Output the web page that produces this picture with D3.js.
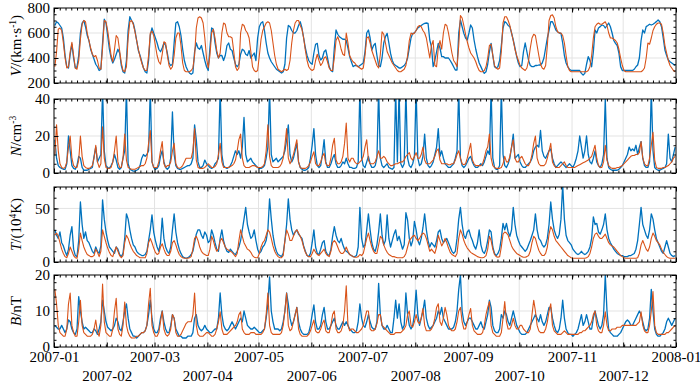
<!DOCTYPE html>
<html><head><meta charset="utf-8">
<script src="https://cdn.jsdelivr.net/npm/d3@7"></script>
<style>
body{margin:0;background:#fff}
text{font-family:"Liberation Serif","Times New Roman",serif;fill:#000}
</style>
</head><body>
<svg id="c" width="700" height="384"></svg>
<script>
// ---------------- data (daily values, 2007-01-01 .. 2007-12-31) ----------------
const monthTicks = ["2007-01","2007-02","2007-03","2007-04","2007-05","2007-06","2007-07","2007-08","2007-09","2007-10","2007-11","2007-12","2008-01"];

const vModel = [
330,450,630,640,620,520,400,320,330,450,
525,420,320,310,380,550,670,700,690,600,
540,480,430,410,420,380,320,310,480,700,
690,620,520,420,370,470,580,560,460,360,
300,290,330,560,690,700,670,610,540,470,
410,360,320,300,300,420,600,615,580,500,
420,370,350,430,530,520,420,340,310,330,
420,560,600,600,500,360,300,290,290,290,
300,320,420,640,720,730,720,680,560,400,
320,420,600,630,560,460,400,440,600,680,
670,600,570,570,560,450,330,300,320,600,
670,660,620,600,560,450,330,300,290,300,
420,550,620,650,680,690,680,620,520,420,
350,310,300,290,300,310,300,310,380,520,
620,680,700,700,660,630,560,460,380,330,
310,300,310,380,430,380,340,360,400,410,
370,320,300,300,400,540,570,530,470,430,
420,600,520,420,390,370,360,340,330,320,
310,320,420,560,570,520,460,420,380,340,
320,430,610,590,520,450,420,390,360,340,
320,300,290,290,300,310,340,420,540,600,
590,600,620,650,660,650,620,600,560,480,
400,500,540,340,330,480,540,470,600,670,
660,600,520,440,380,360,330,500,740,720,
660,590,530,480,440,420,400,370,330,300,
290,290,300,330,400,500,510,420,340,320,
310,320,450,680,730,730,700,660,600,540,
470,420,380,340,320,310,300,320,380,480,
560,590,580,500,420,350,320,310,340,500,
700,740,745,720,650,610,600,600,580,520,
420,330,300,290,290,290,290,290,290,290,
290,290,290,300,330,420,560,650,670,680,
670,670,680,690,660,600,560,560,550,540,
520,470,400,340,300,290,290,290,290,290,
290,290,290,290,290,300,320,400,520,510,
560,620,650,670,680,680,670,600,500,440,
380,340,320,300,290];

const vObs = [
660,690,680,660,640,560,420,330,320,430,
510,400,320,330,420,600,680,700,650,580,
540,470,430,390,350,330,300,310,520,710,
680,580,470,400,360,390,430,470,440,340,
290,280,380,620,730,700,680,620,540,460,
420,370,320,290,280,380,580,640,600,560,
520,470,450,480,520,500,440,360,340,350,
520,680,690,650,580,470,380,330,300,280,
270,280,450,520,480,470,500,440,380,330,
300,480,640,630,520,440,400,420,420,380,
420,500,520,470,460,400,350,330,350,430,
470,460,430,420,460,400,420,440,380,560,
650,680,690,620,520,440,400,370,350,330,
310,300,290,280,290,350,560,660,650,620,
600,600,620,660,690,640,560,480,420,380,
360,350,440,510,517,420,384,400,450,464,
400,330,300,291,480,624,590,570,560,550,
550,540,480,411,370,331,340,340,330,340,
350,360,450,600,624,560,464,500,517,420,
340,331,400,520,571,597,520,437,380,350,
340,331,320,320,330,340,360,400,480,560,
597,600,620,640,650,660,670,677,680,677,
544,490,331,380,450,517,480,411,411,400,
400,400,380,357,330,304,304,600,704,650,
597,560,544,600,664,640,544,470,411,360,
331,300,277,290,350,450,517,420,331,320,
330,380,500,640,691,680,660,651,600,544,
480,411,360,331,340,450,520,450,380,340,
331,331,340,340,344,344,360,400,480,560,
620,690,690,660,624,610,600,597,520,420,
360,331,310,300,300,300,300,300,300,277,
264,277,350,411,380,330,450,624,600,640,
651,664,660,640,660,680,650,600,540,517,
500,440,331,300,300,300,300,300,300,300,
310,330,344,400,540,624,600,651,660,670,
664,670,680,691,704,690,650,560,464,420,
384,370,360,350,340];

const nModel = [
10,26,12,5,3,2.5,3,6,14,20,
8,4,3,3,7,20,9,4,3,2.5,
2.5,3,4,8,15,6,3,5,25,8,
3,2.5,2.5,3,6,12,20,6,3,3,
8,21,7,3,2.5,2,2,2,2.5,3,
3.5,4,4,5,8,16,23,6,3,3,
3,6,12,17,5,3,4,4,6,12,
16,5,3,2.5,3,4,6,8,8,8,
8,12,24,7,3,2.5,2.5,2.5,3,4,
5,4,3,3,3.5,5,10,16,6,3,
3,3,3,3.5,4,5,7,12,18,21,
8,4,3,3,3,3.5,4,4,3.5,3,
3,3,3.5,5,12,26,9,4,3,3,
3,3,3.5,5,8,15,24,8,5,7,
10,14,18,6,3,2.5,2.5,2.5,3,4,
6,9,11.5,5,4,4,6,9,10.6,5,
4,4,8,15,18.7,7,5,5,6,9,
16,27,8,6,8,8,6,5,5,6,
7,9,14,18,7,5,5,5,6,9,
12,8,8,9,8,6,5,4,4,4.5,
5,5,5.5,6,6,7,9,10,11,8,
7,9,11,8,8,10,14,7,5,5,
5,6,7,9,12,13,7,5,5,5,
5,4.5,4.5,5,5,7,10,12,8,5,
4.5,5,8,12,16,7,5,4,4,4,
4,5,8,12,14,21,8,4,3,2.5,
2.5,2.5,3,5,9,6,6,9,14,18,
8,6,6,8,9,7,5,4,4,6,
10,16,20,8,5,4,4,4,5,8,
12,16,6,4,3,3,3,4,5,6,
4,3,3,3,3,3,3.5,4,4.5,5,
5.5,6,6.5,7,8,9,12,15,8,4,
3,3,6,15,7,4,3,2.5,2.5,2.5,
3,3,3.5,4,5,6,7,8,9,9.5,
9.5,10,10,11,17,8,5,4,4,8,
15,22,7,3,2.5,2.5,2.5,3,3,3.5,
4,5,6,8,9];

const nObs = [
18,8,4,3,2.5,2,2,5,20,12,
4,2.5,2,4,9,8,3,1.5,1.5,1.5,
2,2.5,3,9,14,6,8,10,45,12,
4,3,2.5,4,6,10,7,3,2,3,
8,12,45,5,2,1.5,1,1,1.5,2,
4,8,10,9,10,12,45,6,3,2,
2.5,4,9,12,6,3,2,3,8,33,
10,4,2.5,2,2,2.5,3,3.5,4,4,
5,8,26,18,6,3,3,4,7,5,
4,3,2.5,3,5,6,8,45,10,4,
3,2.5,3,4,6,9,12,10,12,8,
14,30,10,6,7,8,6,5,4,3,
2.5,2.5,3,4,8,14,45,10,6,7,
8,6,7,8,9,12,18,26,10,6,
8,12,16,6,3,2,1.5,1.5,2,3,
8,15,24,10,4,3,4,10,18,6,
3,3,5,8,10,5,3,3,4,6,
5,8,5,3,3,2.5,2.5,3,6,45,
8,4,3,6,9,5,3,3,4,8,
45,8,4,3,4,5,3,2.5,2,3,
45,6,45,5,3,5,45,8,4,3,
5,9,45,8,4,5,9,21,8,4,
3,4,6,10,14,24,9,12,8,5,
4,3,3,4,5,8,12,45,8,4,
3,4,6,8,9,6,4,3,3,4,
5,4,6,9,12,10,45,8,3,2,
2,4,45,10,4,3,5,8,14,21,
8,9,10,6,4,3,3,4,5,6,
8,12,14,15,14,23,12,9,8,10,
12,13,8,5,3,4,5,6,5,4,
3,4,5,4,3,5,8,12,20,14,
8,12,20,10,6,5,8,12,6,4,
3,5,10,40,8,3,2,1.5,1.5,1.5,
1.5,2,3,4,6,8,10,14,12,13,
12,15,10,14,17,8,4,3,3,6,
45,12,3,2,1.5,1.5,2,2.5,3,5,
21,8,6,10,14];

const tModel = [
25,27,24,18,12,8,5,4,8,14,
10,6,4,3.5,12,27,20,14,10,7,
6,5,5,6,12,9,5,10,30,24,
18,13,9,6,5,10,14,10,6,4,
6,18,25,22,17,13,10,8,6,5,
4,4,4,4,8,18,22,18,13,9,
7,8,14,17,12,8,6,6,10,18,
20,16,11,7,5,4,3.5,3.5,3.5,4,
5,12,22,24,20,14,10,8,7,6,
6,12,24,20,14,10,12,20,22,18,
14,12,11,10,9,7,5,8,20,30,
24,18,15,12,11,9,6,4.5,4,4,
8,14,18,20,25,30,28,22,15,10,
7,5,4,4,6,20,30,26,20,20,
24,28,30,27,24,20,14,9,6,5,
5,8,12,9,7,6,8,10,12,8,
6,5,10,18,20,18,14,10,8,8,
10,14,10,7,6,5,4.5,4.5,5,7,
6,8,15,22,27,20,14,10,8,8,
16,24,22,16,12,9,7,6,5,5,
4.5,4,4,4,4,5,8,14,20,22,
24,25,22,20,22,25,27,26,22,16,
10,12,10,8,14,25,20,15,18,22,
18,13,9,7,6,5,8,22,30,26,
20,16,13,11,9,8,7,6,5,4.5,
4,4,4.5,6,12,24,20,12,7,5,
4.5,5,14,26,28,27,25,20,15,12,
10,8,7,6,5,4.5,4.5,5,6,10,
18,24,22,16,11,8,6,6,8,14,
26,33,30,24,20,18,16,14,12,10,
8,6,5,4,3.5,3.5,3.5,3.5,3.5,3.5,
3.5,3.5,4,5,8,14,22,26,27,24,
22,22,24,26,22,18,16,15,14,12,
10,8,6,5,4,3.5,3.5,3.5,3.5,3.5,
3.5,3.5,4,8,16,20,16,12,10,14,
22,27,24,20,18,16,12,9,7,5,
4,3.5,3.5,3.5,3.5];

const tObs = [
30,25,22,28,18,15,10,6,12,25,
33,12,6,5,20,56,35,22,28,20,
18,14,10,8,14,10,8,15,58,40,
28,20,14,12,10,8,14,12,7,5,
8,22,45,40,30,22,16,14,10,8,
7,6,6,7,10,20,30,44,28,20,
14,10,18,41,22,14,10,8,14,30,
45,28,18,12,8,5,4,3.5,4,5,
7,10,18,26,30,30,25,22,28,25,
18,20,30,25,18,12,10,22,30,20,
14,10,9,12,10,8,7,10,14,20,
30,40,51,35,28,22,24,30,20,12,
8,10,14,16,20,30,59,40,25,16,
10,7,6,5,8,20,35,59,40,30,
25,28,30,26,24,22,15,10,6,5,
8,18,30,14,8,7,12,18,20,10,
7,6,12,24,33,25,20,18,22,16,
12,10,9,7,6,5,5,6,14,51,
22,14,16,30,45,30,18,12,10,16,
28,45,25,16,20,44,22,14,20,26,
30,20,24,18,12,16,46,39,22,15,
20,38,30,20,16,22,32,45,30,20,
14,18,16,14,20,28,30,22,18,20,
22,18,14,10,8,10,22,40,51,35,
25,22,28,30,24,20,15,12,18,30,
16,10,8,12,20,30,28,14,8,6,
8,12,22,36,30,36,28,24,30,51,
35,25,20,16,14,12,10,12,16,20,
25,30,45,30,22,20,16,14,16,22,
35,56,40,30,25,22,26,40,72,40,
25,20,18,16,12,10,8,7,8,10,
8,7,8,10,14,22,42,35,36,28,
26,30,35,45,30,22,18,15,12,10,
8,7,6,6,5,5,5,6,6,7,
8,12,20,35,51,35,30,25,22,30,
45,40,30,22,18,14,10,8,14,20,
14,8,6,5,6];

const bModel = [
16,12,6,4,3.5,3,3,5,12,15,
6,4,3,3,7,13,6,4,3.5,3,
3,3,3.5,5,7.5,4,3,6,17.5,7,
4,3.5,3,3,5,10,13.5,5,3.5,3,
6,12.5,6,4,3,2.5,2.5,2.5,3,3,
3.5,4,4,4.5,6,12,16.3,6,4,3,
3,4,7,10,5,3.5,3,3.5,5,9,
8,4,3,3,3.5,4.5,5.5,6.5,7,7,
7,9,15,6,3.5,3,3,3,3.5,4,
4,3.5,3,3,3.5,5,7,9.8,5,3.5,
3.5,3.5,4,4.5,5,5.5,6,7,9,9.8,
5,4,3.5,3.5,3.5,4,4,4,3.5,3.5,
3.5,3.5,4,5,9,15,6,4,3.5,3.5,
3.5,3.5,3.5,4,6,10,15,6,4.5,5,
7,9,11,5,3.5,3,3,3,3,3.5,
4.5,6,7.5,4.5,4,4,5,6.5,7.5,4.5,
4,4,6,9,10,5,4,4,4.5,6,
10,17,6,4.5,5,5,4.5,4,4,4.5,
5,6,8,10,10,5,4.5,4.5,5,6.5,
9,9,6,5.5,5,4.5,4,3.5,3.5,3.5,
4,4,4,4,4.5,5,6,9,10,6,
5.5,7,9,7,6.5,8,10.7,6,4.5,4.5,
4.5,5,6,8,11,12,7,6,8,11,
9,6,5,4.5,4.5,5,7,10,11,7,
5,5,7,9,10.7,6,4.5,4,3.5,3.5,
3.5,4,6,9,11,12.6,6,4,3.5,3,
3,3,4,8,12.6,7,5,5,6,8,
6,5,5,6,6,5,4.5,4,4,5,
9,13,10,6,4.5,4,4,4,5,7,
10,12,6,4.5,4,3.5,3.5,3.5,4,4.5,
4,3.5,3.5,3.5,3.5,3.5,3.5,3.5,4,4,
4.5,4.5,5,5.5,6,7,9,10,6,4.5,
4,4,6,9.8,6,4.5,4.5,5,5,5,
5.5,5.5,5.5,6,6,6,6,6,6,6,
6,6,6.5,7,9.8,6,4.5,4,4,6,
10,15.4,6,4,3.5,3.5,3.5,3.5,3.5,4,
4,4.5,5,5.5,6];

const bObs = [
6,5.5,5,5,6,5,4,5,7.5,7,
5,4,3.5,5,14,10,7,5,5.5,5,
4.5,4,4,5,4.5,3.5,5,7,13,10,
7,5.5,5,4.5,5,6,8,7,5,4.5,
7,10,12,8,5,4,3,3,2.5,3,
3.5,4,4,4.5,6,9,13,8,5,4,
4,5,8,10,7,5,4,4,6,9,
8,5,4,3,3,2.5,2.5,2.5,3,3,
3,4,8,9,6,5,4.5,5,6,5,
4.5,4,4,4.5,5,5,8,15,9,6,
5,4.5,5,6,7,6,5,6,7,8,
7,10,8,6,5.5,5,5,5.5,5,4.5,
4,4,4.5,5,8,12,19.5,10,7,5,
5,5,4.5,5,7,10,15,12,8,6,
7,9,11,7,5,4,3.5,3.5,3.5,4,
6,9,11.7,7,5,5,6,9,11,7,
5,5,6,7,8,6,5,5,6,7,
6,7,6,5,4.5,4,4,4.5,7,12,
8,6,5.5,7,9,7,5.5,5,5,7,
17.7,9,6,5,5,6,5,4,4,8,
13,8,12,7,5,6,15,9,6,5,
6,9,15.8,9,6,8,10,13,8,6,
5,5.5,6,7,8,10,9,11,8,7,
6,5,5,5,5.5,7,10,16,20,10,
7,6,7,8,8,7,6,5,5,6,
7,5.5,5,7,9,13,11,6,4.5,4,
4,5,9,8,10,9,7,6,8,10,
8,6,5,4,3.5,3.5,3.5,4,5,6,
7,8,9,8,7,9,7,6,7,9,
11,11,8,6,4.5,4,5,8,13,8,
5,4,3.5,3.5,3,3.5,4,5,7,9,
6,7,9,7,5,5,8,10,8,6,
5,6,9,20,10,5,4,3.5,3,3,
3,3.5,4,5,6,7,7.5,7,6,6,
7,8,9,10,9,7,5,4.5,5,8,
16,10,5,3.5,3,3,3.5,4,5,7,
8,7,6,7,8];

const vTicks = [200,400,600,800];
const nTicks = [0,20,40];
const tTicks = [0,50];
const bTicks = [0,10,20];

// ---------------- layout ----------------
const X0 = 54, X1 = 676;
const BLUE = "#0072BD", ORANGE = "#D95319";
const FONT = '"Liberation Serif","Times New Roman",serif';
const svg = d3.select("#c");
const parse = d3.utcParse("%Y-%m");
const monthDates = monthTicks.map(parse);
const x = d3.scaleUtc().domain([monthDates[0], monthDates[monthDates.length-1]]).range([X0, X1]);
const day0 = monthDates[0].getTime();
const dayDate = i => new Date(day0 + (i + 0.5) * 864e5);

const panels = [
  {obs: vObs, model: vModel, domain: [200, 800], ticks: vTicks, minor: 50, top: 8, bottom: 83,
   label: [{t: "V", i: true}, {t: "/(km·s"}, {t: "-1", sup: true}, {t: ")", after: true}]},
  {obs: nObs, model: nModel, domain: [0, 40], ticks: nTicks, minor: 5, top: 99, bottom: 173,
   label: [{t: "N", i: true}, {t: "/cm"}, {t: "-3", sup: true}]},
  {obs: tObs, model: tModel, domain: [0, 70], ticks: tTicks, minor: 10, top: 187, bottom: 262,
   label: [{t: "T", i: true}, {t: "/(10"}, {t: "4", sup: true}, {t: "K)", after: true}]},
  {obs: bObs, model: bModel, domain: [0, 20], ticks: bTicks, minor: 2, top: 275, bottom: 347,
   label: [{t: "B", i: true}, {t: "/nT"}]}
];

// minor x ticks (uniform spacing)
const minorDays = d3.range(0, 365, 365 / 108);
const minorX = minorDays.map(d => new Date(day0 + d * 864e5));

panels.forEach((p, k) => {
  const y = d3.scaleLinear().domain(p.domain).range([p.bottom, p.top]);
  const g = svg.append("g");
  const clipId = "clip" + k;
  svg.append("clipPath").attr("id", clipId).append("rect")
    .attr("x", X0).attr("y", p.top).attr("width", X1 - X0).attr("height", p.bottom - p.top);

  // grid
  g.append("g").selectAll("line").data(monthDates.slice(1, -1)).join("line")
    .attr("x1", d => x(d)).attr("x2", d => x(d)).attr("y1", p.top).attr("y2", p.bottom)
    .attr("stroke", "#e3e3e3").attr("stroke-width", 1);
  g.append("g").selectAll("line").data(p.ticks.filter(v => v > p.domain[0] && v < p.domain[1])).join("line")
    .attr("x1", X0).attr("x2", X1).attr("y1", d => y(d)).attr("y2", d => y(d))
    .attr("stroke", "#e3e3e3").attr("stroke-width", 1);

  // lines
  const line = d3.line().x((d, i) => x(dayDate(i))).y(d => y(d));
  const lg = g.append("g").attr("clip-path", `url(#${clipId})`);
  lg.append("path").datum(p.obs).attr("d", line).attr("fill", "none")
    .attr("stroke", BLUE).attr("stroke-width", 1.3).attr("stroke-linejoin", "round");
  lg.append("path").datum(p.model).attr("d", line).attr("fill", "none")
    .attr("stroke", ORANGE).attr("stroke-width", 1.1).attr("stroke-linejoin", "round");

  // axes: ticks inward
  const minorY = d3.range(p.domain[0], p.domain[1] + 1e-9, p.minor);
  const yl = g.append("g").attr("transform", `translate(${X0},0)`)
    .call(d3.axisLeft(y).tickValues(p.ticks).tickSize(-4.5).tickPadding(4));
  yl.attr("font-family", FONT).attr("font-size", 15);
  yl.select(".domain").remove();
  yl.selectAll("text").style("font-size", "15px").style("font-family", FONT);
  g.append("g").attr("transform", `translate(${X0},0)`)
    .call(d3.axisLeft(y).tickValues(minorY).tickSize(-2.5).tickFormat(""))
    .select(".domain").remove();
  g.append("g").attr("transform", `translate(${X1},0)`)
    .call(d3.axisRight(y).tickValues(p.ticks).tickSize(-4.5).tickFormat(""))
    .select(".domain").remove();
  g.append("g").attr("transform", `translate(${X1},0)`)
    .call(d3.axisRight(y).tickValues(minorY).tickSize(-2.5).tickFormat(""))
    .select(".domain").remove();

  [[d3.axisBottom, p.bottom], [d3.axisTop, p.top]].forEach(([ax, yy]) => {
    g.append("g").attr("transform", `translate(0,${yy})`)
      .call(ax(x).tickValues(monthDates).tickSize(-4.5).tickFormat(""))
      .select(".domain").remove();
    g.append("g").attr("transform", `translate(0,${yy})`)
      .call(ax(x).tickValues(minorX).tickSize(-2.5).tickFormat(""))
      .select(".domain").remove();
  });

  // frame
  g.append("rect").attr("x", X0).attr("y", p.top).attr("width", X1 - X0).attr("height", p.bottom - p.top)
    .attr("fill", "none").attr("stroke", "#000").attr("stroke-width", 1);

  // y label
  const lab = svg.append("text")
    .attr("transform", `translate(21,${(p.top + p.bottom) / 2}) rotate(-90)`)
    .attr("text-anchor", "middle").style("font-size", "15px").style("font-family", FONT);
  p.label.forEach(s => {
    const ts = lab.append("tspan").text(s.t);
    if (s.i) ts.style("font-style", "italic");
    if (s.sup) ts.attr("dy", -5.5).style("font-size", "9.5px");
    if (s.after) ts.attr("dy", 5.5);
  });

  // x labels only under last panel
  if (k === panels.length - 1) {
    const xa = svg.append("g").attr("transform", `translate(0,${p.bottom})`)
      .call(d3.axisBottom(x).tickValues(monthDates).tickSize(0).tickFormat(d3.utcFormat("%Y-%m")));
    xa.attr("font-family", FONT).attr("font-size", 15);
    xa.select(".domain").remove();
    xa.selectAll("text")
      .style("font-size", "15px").style("font-family", FONT)
      .attr("dy", null)
      .attr("y", (d, i) => i % 2 === 0 ? 14.5 : 33.5);
  }
});
</script>
</body></html>
